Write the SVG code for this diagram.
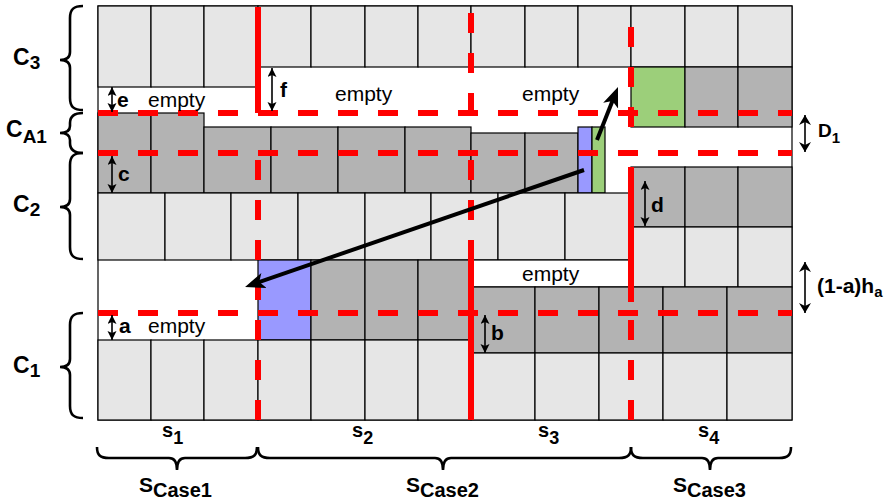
<svg xmlns="http://www.w3.org/2000/svg" width="887" height="502" viewBox="0 0 887 502">
<style>
rect{stroke:#000;stroke-width:1.2}
.lt{fill:#e6e6e6}.dk{fill:#b3b3b3}.bl{fill:#9999ff}.gr{fill:#9ccf7a}.fr{fill:#fff}
.rd{stroke:#ff0000;stroke-width:6;fill:none}
.dd{stroke-dasharray:20 20}
.ar{stroke:#000;stroke-width:1.6;fill:none;marker-start:url(#sa);marker-end:url(#sa)}
.ar2{stroke:#000;stroke-width:1.6;fill:none;marker-start:url(#ma);marker-end:url(#ma)}
.big{stroke:#000;stroke-width:4;fill:none;marker-end:url(#ba)}
.br{stroke:#000;stroke-width:2.6;fill:none}
text{font-family:"Liberation Sans",Arial,sans-serif;fill:#000}
.em{font-size:21px}
.lb{font-size:21px;font-weight:bold}
</style>
<defs>
<marker id="sa" markerUnits="userSpaceOnUse" markerWidth="10" markerHeight="10" refX="9" refY="4.5" orient="auto-start-reverse" viewBox="0 0 10 10"><path d="M0,0 L9,4.5 L0,9 L2,4.5 z" fill="#000"/></marker>
<marker id="ma" markerUnits="userSpaceOnUse" markerWidth="12" markerHeight="12" refX="10" refY="6" orient="auto-start-reverse" viewBox="0 0 12 12"><path d="M0,0 L10,6 L0,12 L3,6 z" fill="#000"/></marker>
<marker id="ba" markerUnits="userSpaceOnUse" markerWidth="22" markerHeight="18" refX="10" refY="8" orient="auto" viewBox="0 0 22 18"><path d="M0,0 L20,8 L0,16 L5,8 z" fill="#000"/></marker>
</defs>

<g id="frame"><rect class="fr" x="98" y="6" width="694" height="414"/></g>

<g id="row-top">
<rect class="lt" x="98" y="6" width="53" height="81"/>
<rect class="lt" x="151" y="6" width="53" height="81"/>
<rect class="lt" x="204" y="6" width="54" height="81"/>
<rect class="lt" x="258" y="6" width="53" height="61"/>
<rect class="lt" x="311" y="6" width="54" height="61"/>
<rect class="lt" x="365" y="6" width="53" height="61"/>
<rect class="lt" x="418" y="6" width="53" height="61"/>
<rect class="lt" x="471" y="6" width="54" height="61"/>
<rect class="lt" x="525" y="6" width="53" height="61"/>
<rect class="lt" x="578" y="6" width="53" height="61"/>
<rect class="lt" x="631" y="6" width="54" height="61"/>
<rect class="lt" x="685" y="6" width="53" height="61"/>
<rect class="lt" x="738" y="6" width="54" height="61"/>
</g>
<g id="row-c3-right">
<rect class="gr" x="631" y="67" width="54" height="60"/>
<rect class="dk" x="685" y="67" width="53" height="60"/>
<rect class="dk" x="738" y="67" width="54" height="60"/>
</g>
<g id="row-ca1">
<rect class="dk" x="98" y="113" width="53" height="80"/>
<rect class="dk" x="151" y="113" width="53" height="80"/>
<rect class="dk" x="204" y="127" width="67" height="66"/>
<rect class="dk" x="271" y="127" width="67" height="66"/>
<rect class="dk" x="338" y="127" width="67" height="66"/>
<rect class="dk" x="405" y="127" width="66" height="66"/>
<rect class="dk" x="471" y="133" width="54" height="60"/>
<rect class="dk" x="525" y="133" width="53" height="60"/>
<rect class="bl" x="578" y="127" width="14" height="66"/>
<rect class="gr" x="592" y="127" width="13" height="66"/>
</g>
<g id="row-c2-right">
<rect class="dk" x="631" y="167" width="54" height="60"/>
<rect class="dk" x="685" y="167" width="53" height="60"/>
<rect class="dk" x="738" y="167" width="54" height="60"/>
<rect class="lt" x="631" y="227" width="54" height="60"/>
<rect class="lt" x="685" y="227" width="53" height="60"/>
<rect class="lt" x="738" y="227" width="54" height="60"/>
</g>
<g id="row-c2">
<rect class="lt" x="98" y="193" width="67" height="67"/>
<rect class="lt" x="165" y="193" width="66" height="67"/>
<rect class="lt" x="231" y="193" width="67" height="67"/>
<rect class="lt" x="298" y="193" width="67" height="67"/>
<rect class="lt" x="365" y="193" width="66" height="67"/>
<rect class="lt" x="431" y="193" width="67" height="67"/>
<rect class="lt" x="498" y="193" width="67" height="67"/>
<rect class="lt" x="565" y="193" width="65" height="67"/>
</g>
<g id="row-c1-mid">
<rect class="bl" x="258" y="260" width="53" height="80"/>
<rect class="dk" x="311" y="260" width="54" height="80"/>
<rect class="dk" x="365" y="260" width="53" height="80"/>
<rect class="dk" x="418" y="260" width="53" height="80"/>
<rect class="fr" x="471" y="260" width="159" height="27"/>
<rect class="lt" x="98" y="340" width="53" height="80"/>
<rect class="lt" x="151" y="340" width="53" height="80"/>
<rect class="lt" x="204" y="340" width="54" height="80"/>
<rect class="lt" x="258" y="340" width="53" height="80"/>
<rect class="lt" x="311" y="340" width="54" height="80"/>
<rect class="lt" x="365" y="340" width="53" height="80"/>
<rect class="lt" x="418" y="340" width="53" height="80"/>
</g>
<g id="row-c1-right">
<rect class="dk" x="471" y="287" width="64" height="66"/>
<rect class="dk" x="535" y="287" width="64" height="66"/>
<rect class="dk" x="599" y="287" width="64" height="66"/>
<rect class="dk" x="663" y="287" width="64" height="66"/>
<rect class="dk" x="727" y="287" width="65" height="66"/>
<rect class="lt" x="471" y="353" width="64" height="67"/>
<rect class="lt" x="535" y="353" width="64" height="67"/>
<rect class="lt" x="599" y="353" width="64" height="67"/>
<rect class="lt" x="663" y="353" width="64" height="67"/>
<rect class="lt" x="727" y="353" width="65" height="67"/>
</g>

<g id="red-lines">
<line class="rd dd" x1="98" y1="113" x2="792" y2="113"/>
<line class="rd dd" x1="98" y1="153" x2="792" y2="153"/>
<line class="rd dd" x1="98" y1="313" x2="792" y2="313"/>
<line class="rd" x1="258" y1="7" x2="258" y2="113"/>
<line class="rd dd" x1="258" y1="160" x2="258" y2="420"/>
<line class="rd dd" x1="471" y1="13" x2="471" y2="113"/>
<line class="rd dd" x1="471" y1="160" x2="471" y2="220"/>
<line class="rd" x1="471" y1="240" x2="471" y2="420"/>
<line class="rd dd" x1="631" y1="27" x2="631" y2="127"/>
<line class="rd" x1="631" y1="167" x2="631" y2="302"/>
<line class="rd dd" x1="631" y1="320" x2="631" y2="420"/>
</g>

<g id="connectors">
<line class="big" x1="584" y1="170" x2="254.5" y2="283.7"/>
<line class="big" x1="597" y1="140" x2="614.3" y2="96.3"/>
<line class="ar" x1="112" y1="87" x2="112" y2="112"/>
<line class="ar" x1="272" y1="68" x2="272" y2="111"/>
<line class="ar" x1="112" y1="156" x2="112" y2="193"/>
<line class="ar" x1="645" y1="181" x2="645" y2="226"/>
<line class="ar" x1="112" y1="315" x2="112" y2="340"/>
<line class="ar" x1="485" y1="315" x2="485" y2="353"/>
<line class="ar2" x1="805" y1="115" x2="805" y2="152"/>
<line class="ar2" x1="805" y1="262" x2="805" y2="313"/>
</g>

<g id="braces">
<path class="br" d="M83,6 C74,6 70,9 70,18 L70,52 C70,57 67,60 60,60 C67,60 70,63 70,68 L70,98 C70,107 74,110 83,110"/>
<path class="br" d="M83,113 C74,113 70,116 70,123 L70,126 C70,130 67,133 60,133 C67,133 70,136 70,140 L70,143 C70,150 74,153 83,153"/>
<path class="br" d="M83,153 C74,153 70,156 70,165 L70,199 C70,204 67,207 60,207 C67,207 70,210 70,215 L70,247 C70,256 74,259 83,259"/>
<path class="br" d="M83,313 C74,313 70,316 70,325 L70,359 C70,364 67,367 60,367 C67,367 70,370 70,375 L70,406 C70,415 74,418 83,418"/>
<path class="br" d="M97,447 C97,455 100,458 109,458 L169,458 C174,458 177,461 177,470 C177,461 180,458 185,458 L245,458 C254,458 257,455 257,447"/>
<path class="br" d="M258,447 C258,455 261,458 270,458 L435,458 C440,458 443,461 443,470 C443,461 446,458 451,458 L619,458 C628,458 631,455 631,447"/>
<path class="br" d="M631,447 C631,455 634,458 643,458 L702,458 C707,458 710,461 710,470 C710,461 713,458 718,458 L779,458 C788,458 791,455 791,447"/>
</g>

<g id="labels">
<text class="em" x="148" y="107">empty</text>
<text class="em" x="335" y="101">empty</text>
<text class="em" x="522" y="101">empty</text>
<text class="em" x="522" y="281">empty</text>
<text class="em" x="148" y="333">empty</text>
<text class="lb" x="117" y="107">e</text>
<text class="lb" x="280" y="97">f</text>
<text class="lb" x="118" y="181">c</text>
<text class="lb" x="651" y="212">d</text>
<text class="lb" x="119" y="333">a</text>
<text class="lb" x="491" y="340">b</text>
<text class="lb" x="818" y="137" style="font-size:19px">D<tspan dy="6" style="font-size:15px">1</tspan></text>
<text class="lb" x="817" y="293">(1-a)h<tspan dy="4" style="font-size:15px">a</tspan></text>
<text class="lb" x="13" y="65" style="font-size:23px">C<tspan dy="4" style="font-size:19px">3</tspan></text>
<text class="lb" x="6" y="137" style="font-size:23px">C<tspan dy="6" style="font-size:19px">A1</tspan></text>
<text class="lb" x="13" y="212" style="font-size:23px">C<tspan dy="4" style="font-size:19px">2</tspan></text>
<text class="lb" x="13" y="373" style="font-size:23px">C<tspan dy="4" style="font-size:19px">1</tspan></text>
<text class="lb" x="162" y="437" style="font-size:20px">s<tspan dy="7" style="font-size:18px">1</tspan></text>
<text class="lb" x="352" y="437" style="font-size:20px">s<tspan dy="7" style="font-size:18px">2</tspan></text>
<text class="lb" x="538" y="437" style="font-size:20px">s<tspan dy="7" style="font-size:18px">3</tspan></text>
<text class="lb" x="698" y="437" style="font-size:20px">s<tspan dy="7" style="font-size:18px">4</tspan></text>
<text class="lb" x="139" y="492">S<tspan dy="5" style="font-size:20px">Case1</tspan></text>
<text class="lb" x="406" y="492">S<tspan dy="5" style="font-size:20px">Case2</tspan></text>
<text class="lb" x="673" y="492">S<tspan dy="5" style="font-size:20px">Case3</tspan></text>
</g>
</svg>
